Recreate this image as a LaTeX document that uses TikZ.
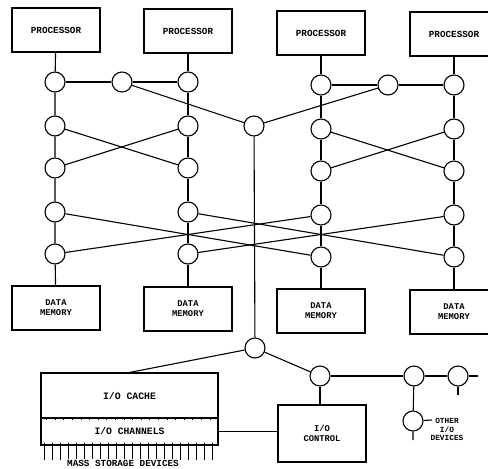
\documentclass[tikz,border=0pt]{standalone}
\usepackage{fontspec}
\setmonofont{Liberation Mono}
\usetikzlibrary{positioning}

\begin{document}
\begin{tikzpicture}[x=1pt,y=-1pt,line width=1.1pt,
    sw/.style={draw,circle,minimum size=20pt,inner sep=0pt},
    unit/.style={draw,rectangle,minimum width=88pt,minimum height=44pt,inner sep=1pt,align=center,font=\ttfamily\bfseries\fontsize{9.3}{10.5}\selectfont},
    lbl/.style={inner sep=0pt,align=center,font=\ttfamily\bfseries\fontsize{#1}{#1}\selectfont}]
    \useasboundingbox (0,0) rectangle (488,469);
    \clip (0,0) rectangle (488,469);
    % Prozessoren oben, Datenspeicher unten
    \foreach \c/\x/\d in {1/56/0,2/188/1,3/321/3,4/454/4}{
      \node[unit] (P\c) at (\x,30+\d) {PROCESSOR};
      \node[unit,font=\ttfamily\bfseries\fontsize{8.8}{10}\selectfont] (M\c) at (\x,308+\d) {DATA\\MEMORY};
    }
    % Schaltknoten in vier Spalten
    \foreach \c/\x/\d in {1/55/0,2/188/0,3/321/3,4/454/3}{
      \foreach \r/\y in {1/82,2/126,3/168,4/212,5/254}
        \node[sw] (s\c\r) at (\x,\y+\d) {};
      \draw (P\c) -- (s\c1) -- (s\c2) -- (s\c3) -- (s\c4) -- (s\c5) -- (M\c);
    }
    % Verbindung der Paare und zentraler Knoten
    \node[sw] (m1) at (122,82) {};
    \node[sw] (m2) at (388,85) {};
    \node[sw] (hub) at (254,126) {};
    \draw (s11) -- (m1) -- (s21);
    \draw (s31) -- (m2) -- (s41);
    \draw (m1) -- (hub) -- (m2);
    % Kreuzungen
    \draw (s12) -- (s23);  \draw (s13) -- (s22);
    \draw (s32) -- (s43);  \draw (s33) -- (s42);
    \draw (s14) -- (s35);  \draw (s15) -- (s34);
    \draw (s24) -- (s45);  \draw (s25) -- (s44);
    % E/A-Teil
    \node[sw] (bh) at (255,348) {};
    \draw (hub) -- (bh);
    \node[draw,minimum width=177pt,minimum height=45pt,lbl=9.8] (cache) at (129.5,395.5) {I/O CACHE};
    \node[draw,minimum width=177pt,minimum height=27pt,lbl=9.7] (chan) at (129.5,431.5) {I/O CHANNELS};
    \foreach \i in {0,...,19}
      \draw[line width=0.7pt] ([xshift=6pt+\i*8.6pt]chan.north west) -- ++(0,3);
    \foreach \i in {0,...,21}
      \draw[line width=0.8pt] ([xshift=4pt+\i*8pt]chan.south west) ++(0,-3) -- ++(0,17);
    \node[lbl=9.3,fill=white,inner sep=0.5pt] (mass) at (123,463) {MASS STORAGE DEVICES};
    \draw (bh) -- (cache.north);
    \node[sw] (ioc) at (320,376) {};
    \node[draw,minimum width=88pt,minimum height=57pt,lbl=8.8] (ctl) at (322,433.5) {I/O\\[1pt]CONTROL};
    \draw (bh) -- (ioc);
    \draw (ioc) -- (ioc |- ctl.north);
    \draw (chan.east) -- (chan.east -| ctl.west);
    % weitere Geraete
    \node[sw] (o1) at (414,376) {};
    \node[sw] (o2) at (458,376) {};
    \node[sw] (o3) at (413,421) {};
    \coordinate (o2r) at (478,376);
    \coordinate (o2d) at (458,395);
    \coordinate (o3d) at (413,440);
    \coordinate (o3r) at (432,420);
    \draw (ioc) -- (o1) -- (o2) -- (o2r);
    \draw (o2) -- (o2d);
    \draw (o1) -- (o3) -- (o3d);
    \draw (o3) -- (o3r);
    \node[lbl=7.8] (other) at (447,429.5) {OTHER\\[1pt]I/O\\[1pt]DEVICES};
\end{tikzpicture}
\end{document}
